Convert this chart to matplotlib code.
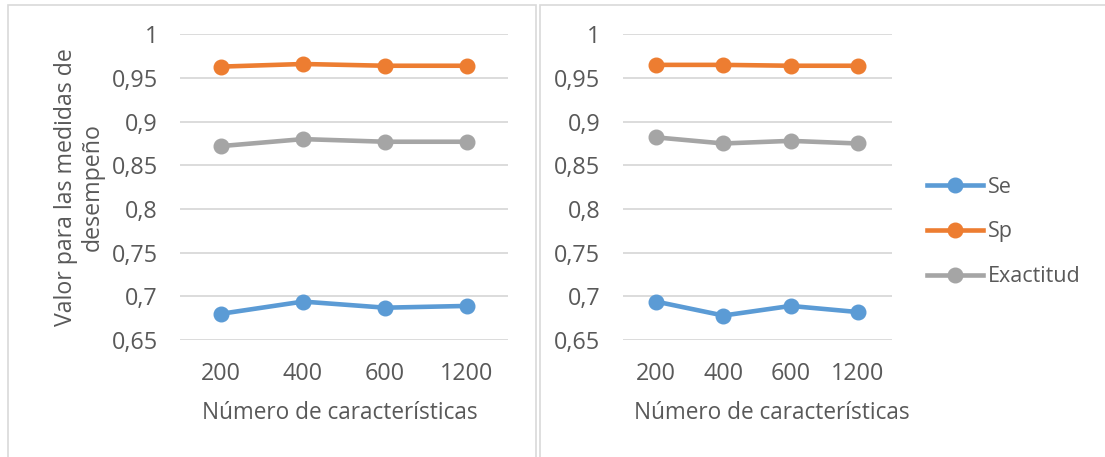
import matplotlib
matplotlib.use("Agg")
import matplotlib.pyplot as plt
from matplotlib.patches import Rectangle
from matplotlib.lines import Line2D
from matplotlib.ticker import FuncFormatter, MultipleLocator

# Datos
caracteristicas = ["200", "400", "600", "1200"]
se_izq = [0.680, 0.694, 0.687, 0.689]
sp_izq = [0.963, 0.966, 0.964, 0.964]
exact_izq = [0.872, 0.880, 0.877, 0.877]
se_der = [0.694, 0.678, 0.689, 0.682]
sp_der = [0.965, 0.965, 0.964, 0.964]
exact_der = [0.882, 0.875, 0.878, 0.875]
series = ["Se", "Sp", "Exactitud"]
colores = ["#5B9BD5", "#ED7D31", "#A5A5A5"]

texto = "#595959"
rejilla = "#D9D9D9"
plt.rcParams["font.family"] = ["Open Sans", "DejaVu Sans"]

W, H = 1105, 457
fig = plt.figure(figsize=(W / 100, H / 100), dpi=100)

# marcos de los dos gráficos
for x0, x1 in [(8, 536), (540, 1120)]:
    fig.add_artist(Rectangle((x0 / W, -0.1), (x1 - x0) / W, 1.1 - 5 / H,
                             transform=fig.transFigure, fill=False,
                             edgecolor=rejilla, linewidth=1.2))

ax1 = fig.add_axes([180 / W, 117 / H, 328 / W, 305.7 / H])
ax2 = fig.add_axes([622.5 / W, 117 / H, 269 / W, 305.7 / H])


def coma(v, pos):
    return ("%g" % round(v, 2)).replace(".", ",")


for ax, datos in [(ax1, [se_izq, sp_izq, exact_izq]), (ax2, [se_der, sp_der, exact_der])]:
    x = range(len(caracteristicas))
    for valores, nombre, c in zip(datos, series, colores):
        ax.plot(x, valores, color=c, linewidth=3.3, marker="o", markersize=10.5,
                label=nombre, solid_capstyle="round")
    ax.set_ylim(0.65, 1.0)
    ax.set_xlim(-0.5, len(caracteristicas) - 0.5)
    ax.yaxis.set_major_locator(MultipleLocator(0.05))
    ax.yaxis.set_major_formatter(FuncFormatter(coma))
    ax.set_xticks(list(x))
    ax.set_xticklabels(caracteristicas)
    ax.grid(axis="y", color=rejilla, linewidth=1.3)
    ax.set_axisbelow(True)
    for s in ax.spines.values():
        s.set_visible(False)
    ax.tick_params(length=0, colors=texto, pad=16, labelsize=16.8)
    ax.set_xlabel("Número de características", color=texto, fontsize=16.3)

ax1.xaxis.set_label_coords(0.488, -0.2)
ax2.xaxis.set_label_coords(0.556, -0.2)
ax1.set_ylabel("Valor para las medidas de\ndesempeño", color=texto, fontsize=16.7,
               linespacing=1.2)
ax1.yaxis.set_label_coords(-0.228, 0.5)

handles = [Line2D([0], [0], color=c, linewidth=3.3, marker="o", markersize=10.5)
           for c in colores]
fig.legend(handles, series, loc="center left", bbox_to_anchor=(908 / W, (457 - 232) / H),
           frameon=False, handlelength=2.6, handletextpad=0.2, labelspacing=1.1,
           labelcolor=texto, fontsize=15.5)

fig.savefig("out.png", dpi=100)
